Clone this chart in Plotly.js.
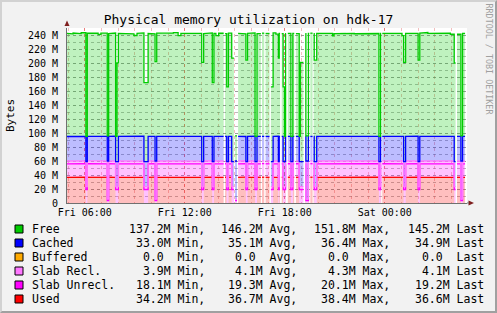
<!DOCTYPE html>
<html><head><meta charset="utf-8">
<script src="https://cdn.plot.ly/plotly-3.0.1.min.js"></script>
<style>
html,body{margin:0;padding:0;background:#F2F2F2;}
#wrap{position:relative;width:497px;height:313px;overflow:hidden;}
#chart{width:497px;height:313px;}
#frame{position:absolute;left:0;top:0;width:497px;height:313px;box-sizing:border-box;border-top:2px solid #D2D2D2;border-left:2px solid #D2D2D2;border-right:2px solid #A0A0A0;border-bottom:2px solid #A0A0A0;pointer-events:none;}
</style></head>
<body><div id="wrap"><div id="chart"></div><div id="frame"></div></div>
<script>
// ---- data (MB) ----
const times = [
"2011-01-07 04:56","2011-01-07 05:08","2011-01-07 05:18","2011-01-07 05:33","2011-01-07 05:47","2011-01-07 06:04","2011-01-07 06:09","2011-01-07 06:24","2011-01-07 06:41","2011-01-07 06:48",
"2011-01-07 06:58","2011-01-07 07:21","2011-01-07 07:26","2011-01-07 07:38","2011-01-07 07:51","2011-01-07 07:56","2011-01-07 08:01","2011-01-07 08:20","2011-01-07 08:57","2011-01-07 09:08",
"2011-01-07 09:20","2011-01-07 09:33","2011-01-07 09:48","2011-01-07 10:01","2011-01-07 10:13","2011-01-07 10:19","2011-01-07 10:37","2011-01-07 10:59","2011-01-07 11:19","2011-01-07 11:36",
"2011-01-07 11:46","2011-01-07 12:10","2011-01-07 12:36","2011-01-07 13:01","2011-01-07 13:08","2011-01-07 13:22","2011-01-07 13:39","2011-01-07 13:45","2011-01-07 13:52","2011-01-07 14:02",
"2011-01-07 14:20","2011-01-07 14:25","2011-01-07 14:31","2011-01-07 14:37","2011-01-07 14:49","2011-01-07 14:57","2011-01-07 15:01","2011-01-07 15:08","2011-01-07 15:12","2011-01-07 15:25",
"2011-01-07 15:40","2011-01-07 15:46","2011-01-07 16:00","2011-01-07 16:13","2011-01-07 16:20","2011-01-07 16:34","2011-01-07 16:38","2011-01-07 16:46","2011-01-07 16:51","2011-01-07 17:05",
"2011-01-07 17:10","2011-01-07 17:18","2011-01-07 17:28","2011-01-07 17:37","2011-01-07 17:40","2011-01-07 17:43","2011-01-07 17:49","2011-01-07 17:54","2011-01-07 17:59","2011-01-07 18:03",
"2011-01-07 18:04","2011-01-07 18:11","2011-01-07 18:22","2011-01-07 18:29","2011-01-07 18:34","2011-01-07 18:40","2011-01-07 18:52","2011-01-07 18:56","2011-01-07 19:07","2011-01-07 19:14",
"2011-01-07 19:16","2011-01-07 19:25","2011-01-07 19:28","2011-01-07 19:32","2011-01-07 19:40","2011-01-07 19:44","2011-01-07 19:46","2011-01-07 19:55","2011-01-07 20:15","2011-01-07 20:35",
"2011-01-07 20:52","2011-01-07 20:57","2011-01-07 21:20","2011-01-07 21:40","2011-01-07 21:55","2011-01-07 22:10","2011-01-07 22:35","2011-01-07 22:59","2011-01-07 23:12","2011-01-07 23:39",
"2011-01-07 23:45","2011-01-07 23:47","2011-01-07 23:51","2011-01-08 00:10","2011-01-08 00:30","2011-01-08 00:48","2011-01-08 01:02","2011-01-08 01:08","2011-01-08 01:15","2011-01-08 01:35",
"2011-01-08 02:00","2011-01-08 02:06","2011-01-08 02:25","2011-01-08 02:35","2011-01-08 03:00","2011-01-08 03:25","2011-01-08 03:56","2011-01-08 04:10","2011-01-08 04:15","2011-01-08 04:20",
"2011-01-08 04:34","2011-01-08 04:40","2011-01-08 04:49"];

const used = [
36.7,36.9,36.7,36.4,36.8,null,36.7,36.9,36.6,36.8,
36.7,null,36.8,36.6,null,null,36.7,36.9,36.7,36.8,
36.6,null,36.7,36.9,null,36.7,36.5,36.8,36.7,36.7,
36.6,36.9,36.7,null,36.7,36.8,null,36.7,36.7,36.6,
null,36.8,null,36.7,null,null,null,null,36.7,36.9,
null,36.7,36.6,null,36.7,null,36.8,null,36.7,null,
null,36.7,36.6,null,36.7,null,36.7,null,null,36.7,
null,36.8,null,36.7,null,36.7,null,null,null,36.7,
null,36.7,null,36.8,null,36.7,null,36.7,36.9,36.7,
36.7,36.6,36.8,36.7,36.3,36.8,36.7,36.2,36.8,null,
36.7,null,36.7,36.8,36.5,36.7,36.7,null,36.7,36.8,
null,36.7,36.6,36.7,36.9,36.7,36.7,null,null,36.7,
null,36.6,null];

const slabUnrecl = [
19.3,19.2,19.4,19.3,19.3,19.3,19.4,19.2,19.3,19.4,
19.3,3.5,19.3,19.4,19.3,19.3,19.3,19.2,19.3,19.4,
19.3,19.3,19.3,19.2,3.5,19.3,19.4,19.3,19.3,19.3,
19.4,19.3,19.2,19.3,19.3,19.4,19.3,19.3,19.3,19.4,
null,19.3,19.3,19.3,19.3,null,3.5,null,19.3,19.4,
19.3,19.3,19.3,19.3,19.3,null,19.4,null,19.3,null,
19.3,19.3,19.4,19.3,19.3,null,19.3,19.3,19.3,19.3,
null,19.3,19.3,19.3,null,19.4,19.3,19.3,null,19.3,
3.5,19.3,null,19.3,null,19.3,19.3,19.3,19.4,19.3,
19.3,19.4,19.3,19.2,19.4,19.3,19.3,19.4,19.3,19.3,
19.3,null,19.4,19.3,19.3,19.4,19.3,19.3,19.3,19.3,
19.3,19.3,19.4,19.3,19.3,19.2,19.3,19.3,null,19.3,
3.5,19.3,null];

const slabRecl = [
4.0,4.0,3.9,4.1,4.0,4.0,4.0,4.1,4.0,4.0,
4.1,2.0,4.0,3.9,4.0,4.0,4.0,4.1,4.0,4.0,
4.0,4.0,4.0,4.1,2.0,4.0,4.0,4.1,4.0,4.0,
4.0,4.1,4.0,4.0,4.0,4.1,4.0,4.0,4.0,4.0,
null,4.0,4.0,4.1,4.0,null,2.0,null,4.0,4.0,
4.0,4.0,4.1,4.0,4.0,null,4.0,null,4.0,null,
4.0,4.0,4.1,4.0,4.0,null,4.0,4.0,4.0,4.0,
null,4.0,4.0,4.0,null,4.0,4.0,4.0,null,4.0,
2.0,4.0,null,4.0,null,4.0,4.0,4.0,4.1,4.0,
4.0,4.0,4.1,4.0,4.0,4.1,4.0,4.0,4.0,4.0,
4.0,null,4.1,4.0,4.0,4.1,4.0,4.0,4.0,4.1,
4.0,4.0,4.0,4.0,4.1,4.0,4.0,4.0,null,4.0,
2.0,4.1,null];

const buffered = [
0,0,0,0,0,0,0,0,0,0,
0,0,0,0,0,0,0,0,0,0,
0,0,0,0,0,0,0,0,0,0,
0,0,0,0,0,0,0,0,0,0,
null,0,0,0,0,null,0,null,0,0,
0,0,0,0,0,null,0,null,0,null,
0,0,0,0,0,null,0,0,0,0,
null,0,0,0,null,0,0,0,null,0,
0,0,null,0,null,0,0,0,0,0,
0,0,0,0,0,0,0,0,0,0,
0,null,0,0,0,0,0,0,0,0,
0,0,0,0,0,0,0,0,null,0,
0,0,null];

const cached = [
35.0,35.3,34.8,35.4,35.0,35.8,35.1,34.7,35.4,35.0,
35.1,54.5,35.0,35.6,35.8,35.8,35.1,34.8,35.1,35.0,
35.5,35.8,35.1,34.9,54.5,35.1,35.5,35.0,35.1,35.1,
35.2,34.8,35.4,35.8,35.1,35.0,35.8,35.1,35.1,35.2,
null,35.0,35.8,35.1,35.8,null,54.5,null,35.1,34.7,
35.8,35.1,35.5,35.8,35.1,null,35.0,null,35.1,null,
35.8,35.1,35.2,35.8,35.1,null,35.1,35.8,35.8,35.1,
null,35.0,35.8,35.1,null,35.1,35.8,35.8,null,35.1,
54.5,35.1,null,35.0,null,35.1,35.8,35.1,34.8,35.4,
35.1,35.3,35.1,34.8,35.2,35.0,35.5,35.1,35.0,35.8,
35.1,null,35.0,35.4,35.1,34.8,35.1,35.8,35.1,35.4,
35.8,35.1,35.0,35.1,34.8,35.4,35.1,35.8,null,35.1,
54.5,35.2,null];

const free = [
147.2,146.2,148.0,146.9,148.1,36.0,147.3,146.9,147.4,145.6,
147.4,36.0,147.0,147.3,36.0,141.0,147.1,146.5,144.2,147.2,
147.6,112.9,147.0,146.6,142.0,147.5,146.5,147.6,148.3,144.0,
147.2,146.8,147.1,141.9,146.9,147.7,112.9,147.2,144.0,147.3,
null,147.0,106.9,147.5,147.9,null,36.0,null,147.1,146.7,
144.9,147.3,147.6,36.0,147.0,null,147.4,null,147.1,null,
106.9,148.0,146.0,147.9,147.2,null,147.0,106.9,36.0,147.0,
null,147.3,36.0,147.1,null,146.8,36.0,141.9,null,147.0,
36.0,147.2,null,147.5,null,147.0,144.9,147.3,146.4,147.0,
143.8,146.8,147.8,147.4,147.5,146.6,147.0,147.9,147.0,36.0,
147.2,null,147.0,146.3,147.6,147.3,143.9,141.9,147.3,146.7,
144.9,147.6,148.6,147.2,147.0,147.2,146.0,140.9,null,146.0,
36.0,147.0,null];

// legend
const seriesNames = ["Free","Cached","Buffered","Slab Recl.","Slab Unrecl.","Used"];
const statMin  = ["137.2M","33.0M","0.0","3.9M","18.1M","34.2M"];
const statAvg  = ["146.2M","35.1M","0.0","4.1M","19.3M","36.7M"];
const statMax  = ["151.8M","36.4M","0.0","4.3M","20.1M","38.4M"];
const statLast = ["145.2M","34.9M","0.0","4.1M","19.2M","36.6M"];

// axis ticks
const xTickVals = ["2011-01-07 06:00","2011-01-07 12:00","2011-01-07 18:00","2011-01-08 00:00"];
const xTickText = ["Fri 06:00","Fri 12:00","Fri 18:00","Sat 00:00"];
const yTickVals = [0,20,40,60,80,100,120,140,160,180,200,220,240];
const yTickText = ["0","20 M","40 M","60 M","80 M","100 M","120 M","140 M","160 M","180 M","200 M","220 M","240 M"];

// ---- styling ----
const stackOrder = [used, slabUnrecl, slabRecl, buffered, cached, free];
const lineColors = ["#FF0000","#FF00FF","#FF77FF","#FFAA00","#0000FF","#00CC00"];
const fillColors = ["rgba(255,0,0,0.25)","rgba(255,0,255,0.24)","rgba(255,0,255,0.24)","rgba(255,170,0,0.25)","rgba(0,0,255,0.26)","rgba(0,204,0,0.25)"];
const legendColors = {"Free":"#00CC00","Cached":"#0000FF","Buffered":"#FFAA00","Slab Recl.":"#FF77FF","Slab Unrecl.":"#FF00FF","Used":"#FF0000"};

const n = times.length;
const fillCum = stackOrder.map(()=>[]);
const lineCum = stackOrder.map(()=>[]);
for (let i=0;i<n;i++){
  const gap = stackOrder.every(a=>a[i]===null);
  let s=0;
  for (let k=0;k<stackOrder.length;k++){
    const v = stackOrder[k][i];
    if (v!==null) s+=v;
    fillCum[k].push(gap?0:s);
    lineCum[k].push(v===null?null:s);
  }
}
function stepLine(vals){
  const xs=[], ys=[];
  for (let i=0;i<n-1;i++){
    const v=vals[i];
    if (v===null){ xs.push(times[i]); ys.push(null); continue; }
    xs.push(times[i], times[i+1]); ys.push(v, v);
  }
  return {xs, ys};
}

const traces = [];
for (let k=0;k<stackOrder.length;k++){
  traces.push({x:times, y:fillCum[k], type:'scatter', mode:'lines',
    line:{width:0, shape:'hv'}, fill: k===0?'tozeroy':'tonexty',
    fillcolor: fillColors[k], showlegend:false, hoverinfo:'skip'});
}
for (const k of [0,1,2,4,5]){
  const s = stepLine(lineCum[k]);
  traces.push({x:s.xs, y:s.ys, type:'scatter', mode:'lines', connectgaps:false,
    line:{width:1.3, color:lineColors[k]}, showlegend:false, hoverinfo:'skip'});
}

const px2x = p => (p-67)/400;
const py2y = p => (203-p)/175;
const mono = 'DejaVu Sans Mono, monospace';

const shapes = [
  {type:'path', xref:'paper', yref:'paper', path:`M ${px2x(64.5)} ${py2y(26)} L ${px2x(69.5)} ${py2y(26)} L ${px2x(67)} ${py2y(20.5)} Z`, fillcolor:'#7F1F1F', line:{width:0}},
  {type:'path', xref:'paper', yref:'paper', path:`M ${px2x(468.5)} ${py2y(200.5)} L ${px2x(468.5)} ${py2y(205.5)} L ${px2x(474)} ${py2y(203)} Z`, fillcolor:'#7F1F1F', line:{width:0}},
  {type:'line', xref:'paper', yref:'paper', x0:px2x(467), x1:px2x(469), y0:0, y1:0, line:{color:'#707070', width:1}}
];
const annotations = [
  {text:'Bytes', xref:'paper', yref:'paper', x:px2x(10), y:py2y(116), textangle:-90, showarrow:false, font:{family:mono, size:11, color:'#000'}, xanchor:'center', yanchor:'middle'},
  {text:'RRDTOOL / TOBI OETIKER', xref:'paper', yref:'paper', x:px2x(488.5), y:py2y(59), textangle:90, showarrow:false, font:{family:mono, size:8.4, color:'#A0A0A0'}, xanchor:'center', yanchor:'middle'}
];
const rowY = [229,243,257,271,285,299];
const colRight = [207,299,392,486];
const colWords = ['Min,','Avg,','Max,','Last'];
const stats = [statMin, statAvg, statMax, statLast];
const pad = s => (s.endsWith('M') ? s : s + '\u00A0') + '\u00A0';
seriesNames.forEach((name, r)=>{
  const y = rowY[r];
  shapes.push({type:'rect', xref:'paper', yref:'paper', x0:px2x(15), x1:px2x(23), y0:py2y(y+4), y1:py2y(y-4), fillcolor:legendColors[name], line:{color:'#000', width:1}});
  annotations.push({text:name, xref:'paper', yref:'paper', x:px2x(29.5), y:py2y(y), xanchor:'left', yanchor:'middle', showarrow:false, font:{family:mono, size:11.5, color:'#000'}});
  for (let c=0;c<4;c++){
    annotations.push({text:pad(stats[c][r]) + colWords[c], xref:'paper', yref:'paper', x:px2x(colRight[c]), y:py2y(y), xanchor:'right', yanchor:'middle', showarrow:false, font:{family:mono, size:11.5, color:'#000'}});
  }
});

const layout = {
  width:497, height:313,
  margin:{l:67, r:30, t:28, b:110},
  paper_bgcolor:'#F2F2F2', plot_bgcolor:'#FFFFFF',
  title:{text:'Physical memory utilization on hdk-17', font:{family:mono, size:13, color:'#000'}, xref:'container', yref:'container', x:0.5, xanchor:'center', y:1-19/313, yanchor:'middle'},
  xaxis:{type:'date', range:["2011-01-07 04:56","2011-01-08 04:56"], tickvals:xTickVals, ticktext:xTickText,
    showgrid:true, gridcolor:'rgba(230,80,80,0.6)', griddash:'dot', gridwidth:1,
    minor:{dtick:3600000, tick0:"2011-01-07 00:00", showgrid:true, gridcolor:'rgba(225,110,110,0.45)', griddash:'dot', gridwidth:1},
    showline:true, linecolor:'#707070', linewidth:1, zeroline:false, ticks:'',
    tickfont:{family:mono, size:10, color:'#000'}, fixedrange:true},
  yaxis:{range:[0,250], tickvals:yTickVals, ticktext:yTickText,
    showgrid:true, gridcolor:'rgba(130,130,130,0.55)', griddash:'dot', gridwidth:1,
    minor:{dtick:10, showgrid:true, gridcolor:'rgba(130,130,130,0.55)', griddash:'dot', gridwidth:1},
    showline:true, linecolor:'#707070', linewidth:1, zeroline:false, ticks:'', ticklabelstandoff:6,
    tickfont:{family:mono, size:10, color:'#000'}, fixedrange:true},
  shapes, annotations, showlegend:false
};
Plotly.newPlot('chart', traces, layout, {displayModeBar:false, staticPlot:true});
</script>
</body></html>
